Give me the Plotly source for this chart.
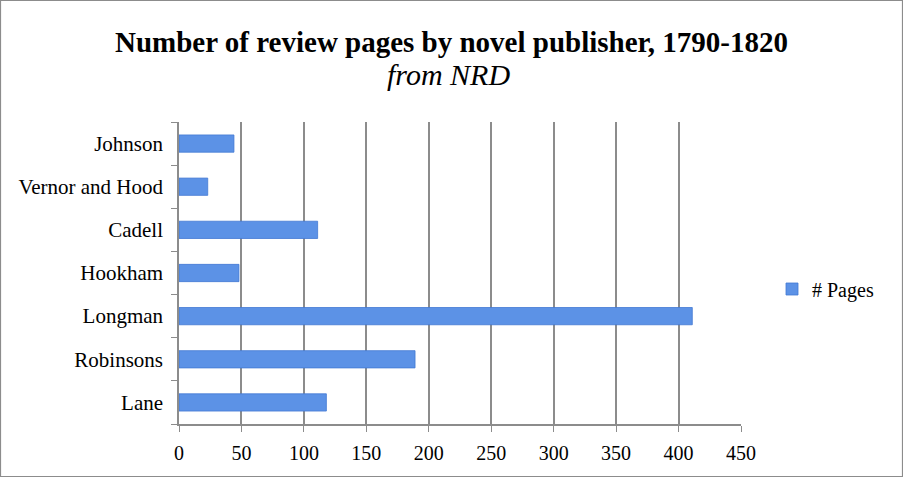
import plotly.graph_objects as go

publishers = ["Johnson", "Vernor and Hood", "Cadell", "Hookham", "Longman", "Robinsons", "Lane"]
pages = [44, 23, 111, 48, 411, 189, 118]
x_ticks = [0, 50, 100, 150, 200, 250, 300, 350, 400, 450]
series_name = "# Pages"
title_main = "Number of review pages by novel publisher, 1790-1820"
title_sub = "from NRD"

W, H = 903, 477
L, R, T, B = 179, 162, 122, 53
pw, ph = W - L - R, H - T - B

def py(pix):
    return (H - B - pix) / ph

def px(pix):
    return (pix - L) / pw

fig = go.Figure()
fig.add_trace(go.Bar(
    y=publishers, x=pages, orientation="h", name=series_name,
    width=0.4,
    marker=dict(color="#5c92e6", line=dict(color="#4279d3", width=0.8)),
))

FONT = "Liberation Serif"
fig.update_layout(
    width=W, height=H,
    margin=dict(l=L, r=R, t=T, b=B, autoexpand=False),
    paper_bgcolor="white", plot_bgcolor="white",
    font=dict(family=FONT, size=20, color="black"),
    showlegend=True,
    legend=dict(x=px(772), y=py(289), xanchor="left", yanchor="middle",
                font=dict(family=FONT, size=20), itemwidth=30,
                bgcolor="rgba(0,0,0,0)"),
    bargap=0.6,
)
fig.add_annotation(text="<b>" + title_main + "</b>", xref="paper", yref="paper",
                   x=px(451.5), y=py(42), xanchor="center", yanchor="middle",
                   showarrow=False, font=dict(family=FONT, size=29, color="black"))
fig.add_annotation(text="<i>" + title_sub + "</i>", xref="paper", yref="paper",
                   x=px(448.5), y=py(74), xanchor="center", yanchor="middle",
                   showarrow=False, font=dict(family=FONT, size=30, color="black"))
fig.update_xaxes(
    range=[0, 450], tickvals=x_ticks, showgrid=True, gridcolor="#8c8c8c", gridwidth=1.5,
    showline=True, linecolor="#8c8c8c", linewidth=1.5, ticks="outside", ticklen=6,
    tickcolor="#8c8c8c", zeroline=False, ticklabelstandoff=4,
)
fig.update_yaxes(
    categoryorder="array", categoryarray=publishers[::-1],
    showline=True, linecolor="#8c8c8c", linewidth=1.5, ticks="outside", ticklen=6,
    tickcolor="#8c8c8c", tickson="boundaries", showgrid=False, ticklabelstandoff=10,
    tickfont=dict(family=FONT, size=21),
)
fig.add_shape(type="rect", xref="paper", yref="paper",
              x0=px(0.5), x1=px(W - 0.5), y0=py(H - 0.5), y1=py(0.5),
              line=dict(color="#8c8c8c", width=1.2), fillcolor="rgba(0,0,0,0)", layer="below")

fig.write_html("out.html", config={"displayModeBar": False},
               post_script="document.body.style.margin='0';document.body.style.overflow='hidden';")
